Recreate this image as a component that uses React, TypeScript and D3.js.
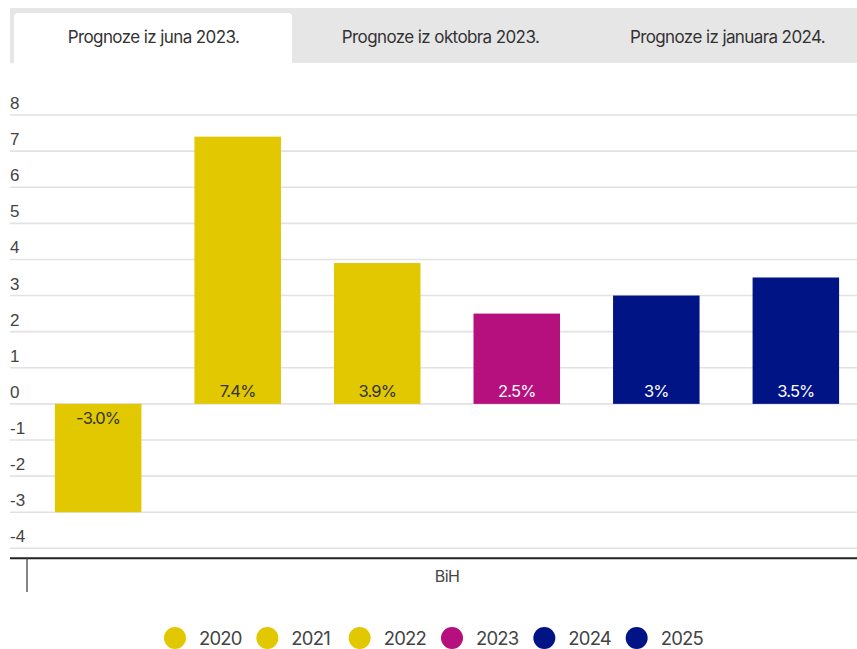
import React from "react";
import * as d3 from "d3";

const tabs = ["Prognoze iz juna 2023.", "Prognoze iz oktobra 2023.", "Prognoze iz januara 2024."];
const years = ["2020", "2021", "2022", "2023", "2024", "2025"];
const values = [-3.0, 7.4, 3.9, 2.5, 3, 3.5];
const valueLabels = ["-3.0%", "7.4%", "3.9%", "2.5%", "3%", "3.5%"];
const colors = ["#E1C800", "#E1C800", "#E1C800", "#B5107E", "#001486", "#001486"];
const labelColors = ["#333", "#333", "#333", "#fff", "#fff", "#fff"];
const yTicks = [-4, -3, -2, -1, 0, 1, 2, 3, 4, 5, 6, 7, 8];
const category = "BiH";

const W = 857;
const H = 649;
const FONT = "Inter, 'Liberation Sans', sans-serif";

export default function App() {
  const y = d3.scaleLinear().domain([-4, 8]).range([548.3, 115]);
  const xCat = d3.scaleBand().domain([category]).range([27, 867]);
  const x = d3
    .scaleBand()
    .domain(years)
    .range([xCat(category)!, xCat(category)! + xCat.bandwidth()])
    .paddingInner(0.38)
    .paddingOuter(0.2);

  const tabX = d3.scaleBand().domain(tabs).range([10, 871]);

  const legendX = d3.scaleBand().domain(years).range([163, 717]);

  return (
    <svg
      width={W}
      height={H}
      style={{ position: "absolute", left: 0, top: 0, display: "block", background: "#fff" }}
      fontFamily={FONT}
    >
      {/* tabs */}
      <rect x={10} y={8} width={W - 10} height={55} fill="#e6e6e6" />
      {tabs.map((t, i) => {
        const tx = tabX(t)!;
        return (
          <g key={t}>
            {i === 0 && (
              <path
                d={`M${tx + 4},63 V${17} Q${tx + 4},13 ${tx + 8},13 H${tx + tabX.bandwidth() - 9} Q${tx + tabX.bandwidth() - 5},13 ${tx + tabX.bandwidth() - 5},17 V63 Z`}
                fill="#fff"
              />
            )}
            <text
              x={tx + tabX.bandwidth() / 2}
              y={43}
              textAnchor="middle"
              fontSize={17}
              letterSpacing={-0.6}
              fill="#333"
            >
              {t}
            </text>
          </g>
        );
      })}

      {/* grid */}
      {yTicks.map((t) => (
        <g key={t}>
          <line x1={10} x2={W} y1={y(t)} y2={y(t)} stroke="#e2e2e2" strokeWidth={1.6} />
          <text
            x={10}
            y={y(t) - 6}
            fontSize={17}
            fill="#444"
            fontFamily="'Liberation Sans', Arial, sans-serif"
          >
            {t}
          </text>
        </g>
      ))}

      {/* bars */}
      {years.map((yr, i) => {
        const v = values[i];
        const top = y(Math.max(0, v));
        const bottom = y(Math.min(0, v));
        return (
          <g key={yr}>
            <rect x={x(yr)} y={top} width={x.bandwidth()} height={bottom - top} fill={colors[i]} />
            <text
              x={x(yr)! + x.bandwidth() / 2}
              y={v >= 0 ? y(0) - 7 : y(0) + 20}
              textAnchor="middle"
              fontSize={16.5}
              letterSpacing={-0.8}
              fill={labelColors[i]}
            >
              {valueLabels[i]}
            </text>
          </g>
        );
      })}

      {/* x axis */}
      <line x1={10} x2={W} y1={558.3} y2={558.3} stroke="#222" strokeWidth={2} />
      <line x1={xCat(category)} x2={xCat(category)} y1={558} y2={592} stroke="#444" strokeWidth={1.3} />
      <text
        x={xCat(category)! + xCat.bandwidth() / 2}
        y={582}
        textAnchor="middle"
        fontSize={16}
        letterSpacing={-0.6}
        fill="#444"
      >
        {category}
      </text>

      {/* legend */}
      {years.map((yr, i) => {
        const lx = legendX(yr)!;
        return (
          <g key={yr}>
            <circle cx={lx + 12} cy={638} r={11} fill={colors[i]} />
            <text x={lx + 36} y={645} fontSize={18.5} letterSpacing={-0.8} fill="#444">
              {yr}
            </text>
          </g>
        );
      })}
    </svg>
  );
}
